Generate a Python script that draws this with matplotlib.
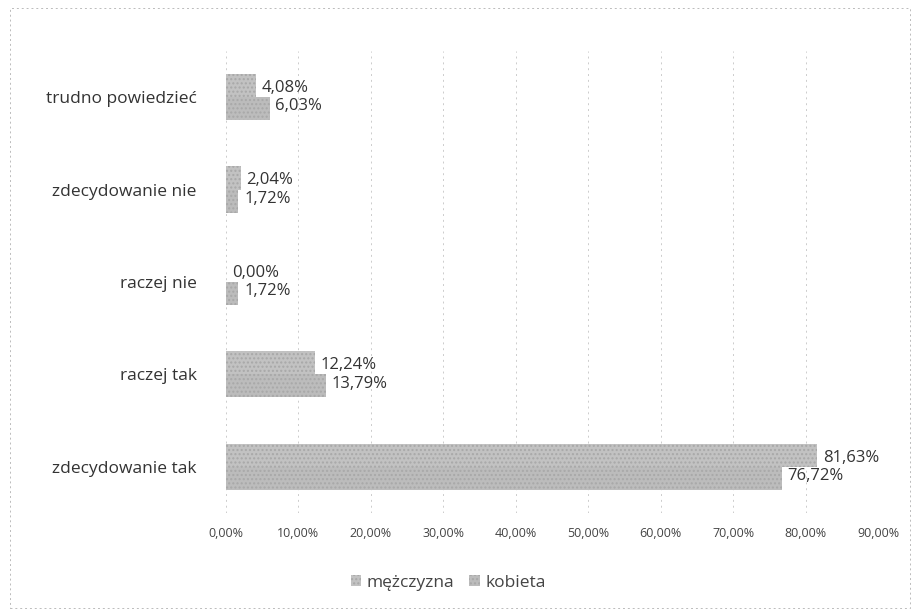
import matplotlib.pyplot as plt
from matplotlib.patches import Rectangle
import numpy as np

categories = ["zdecydowanie tak", "raczej tak", "raczej nie", "zdecydowanie nie", "trudno powiedzieć"]
mezczyzna = [81.63, 12.24, 0.00, 2.04, 4.08]
kobieta = [76.72, 13.79, 1.72, 1.72, 6.03]
series_names = ["mężczyzna", "kobieta"]
xticks = [0, 10, 20, 30, 40, 50, 60, 70, 80, 90]

plt.rcParams['font.family'] = ['Open Sans', 'DejaVu Sans']

fig = plt.figure(figsize=(9.17, 6.16), dpi=100)
ax = fig.add_axes([226/917, 1-513/616, (878-226)/917, (513-51)/616])

y = np.arange(len(categories))
h = 0.25
col_m = '#c2c2c2'
col_k = '#bcbcbc'
b1 = ax.barh(y + h/2, mezczyzna, height=h, color=col_m, edgecolor='#a8a8a8', linewidth=0, label=series_names[0], hatch='....')
b2 = ax.barh(y - h/2, kobieta, height=h, color=col_k, edgecolor='#a8a8a8', linewidth=0, label=series_names[1], hatch='....')

def fmt(v):
    return f"{v:.2f}".replace('.', ',') + '%'

for yi, v in zip(y, mezczyzna):
    ax.text(v + 0.8, yi + 0.1, fmt(v), va='center', ha='left', fontsize=12, color='#333333')
for yi, v in zip(y, kobieta):
    ax.text(v + 0.8, yi - 0.1, fmt(v), va='center', ha='left', fontsize=12, color='#333333')

ax.set_xlim(0, 90)
ax.set_ylim(-0.5, len(categories) - 0.5)
ax.set_xticks(xticks)
ax.set_xticklabels([f"{t:.2f}".replace('.', ',') + '%' for t in xticks], fontsize=9, color='#444444')
ax.set_yticks(y)
ax.set_yticklabels(categories, fontsize=12.5, color='#333333')
ax.tick_params(axis='both', length=0)
ax.tick_params(axis='y', pad=21)
ax.tick_params(axis='x', pad=10)
ax.grid(axis='x', color='#cccccc', linestyle=(0, (2, 4)), linewidth=0.7)
ax.set_axisbelow(True)
for s in ax.spines.values():
    s.set_visible(False)

fig.legend(handles=[b1, b2], labels=series_names, loc='center', bbox_to_anchor=(448/917, 1-583/616),
           ncol=2, frameon=False, fontsize=12.5, handlelength=0.6, handleheight=0.6,
           handletextpad=0.3, columnspacing=0.9, labelcolor='#444444')

fig.patches.append(Rectangle((10/917, 8/616), 900/917, 600/616, transform=fig.transFigure,
                             fill=False, edgecolor='#bbbbbb', linestyle=(0, (2, 3)), linewidth=0.7))

fig.savefig('out.png', dpi=100)
